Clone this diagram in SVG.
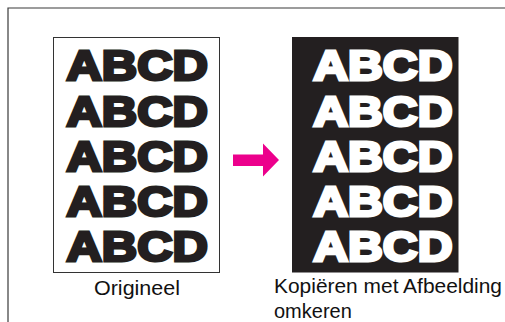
<svg xmlns="http://www.w3.org/2000/svg" width="505" height="322" viewBox="0 0 505 322">
  <style>
    .frame { fill: none; stroke: #3a3a3a; stroke-width: 1.2; }
    .big { font-family: "Liberation Sans", Arial, sans-serif; font-weight: bold; font-style: normal; font-size: 42px; stroke-width: 3; stroke-linejoin: miter; stroke-miterlimit: 2; }
    .dark { fill: #231f20; stroke: #231f20; }
    .light { fill: #ffffff; stroke: #ffffff; }
    .label { font-family: "Liberation Sans", Arial, sans-serif; font-size: 20px; fill: #111111; }
  </style>
  <rect width="505" height="322" fill="#ffffff"/>
  <path class="frame" d="M8,322 V8 H505"/>

  <g id="original">
    <rect x="53.5" y="37.5" width="166" height="235" fill="#ffffff" stroke="#333333" stroke-width="1"/>
    <g class="big dark">
      <text transform="translate(66.5,80.2) scale(1.166,1)">ABCD</text>
      <text transform="translate(66.5,125.5) scale(1.166,1)">ABCD</text>
      <text transform="translate(66.5,170.8) scale(1.166,1)">ABCD</text>
      <text transform="translate(66.5,216.1) scale(1.166,1)">ABCD</text>
      <text transform="translate(66.5,261.4) scale(1.166,1)">ABCD</text>
    </g>
    <text class="label" x="94" y="295" textLength="86" lengthAdjust="spacingAndGlyphs">Origineel</text>
  </g>

  <g id="connectors">
    <polygon points="233,154.5 263,154.5 263,143.5 279,160 263,176.5 263,166 233,166" fill="#ec008c"/>
  </g>

  <g id="inverted">
    <rect x="292" y="37" width="166.5" height="235.5" fill="#231f20"/>
    <g class="big light">
      <text transform="translate(313.2,80.2) scale(1.149,1)">ABCD</text>
      <text transform="translate(313.2,125.5) scale(1.149,1)">ABCD</text>
      <text transform="translate(313.2,170.8) scale(1.149,1)">ABCD</text>
      <text transform="translate(313.2,216.1) scale(1.149,1)">ABCD</text>
      <text transform="translate(313.2,261.4) scale(1.149,1)">ABCD</text>
    </g>
    <text class="label" x="274" y="292.5" textLength="228" lengthAdjust="spacingAndGlyphs">Kopiëren met Afbeelding</text>
    <text class="label" x="274" y="318">omkeren</text>
  </g>
</svg>
